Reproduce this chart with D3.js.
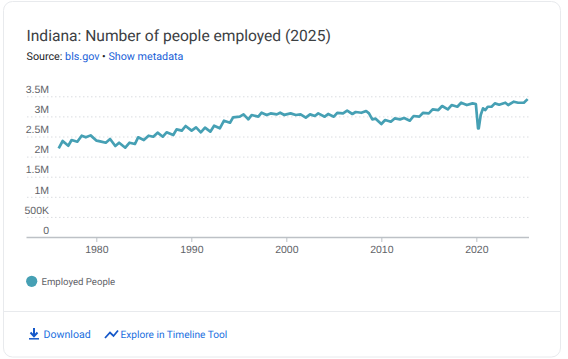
<!DOCTYPE html>
<html>
<head>
<meta charset="utf-8">
<script src="https://cdn.jsdelivr.net/npm/d3@7"></script>
<style>
  html, body { margin: 0; padding: 0; background: #fff; }
  svg { display: block; text-rendering: geometricPrecision; }
  .title { font: 15.6px Roboto, sans-serif; fill: #3c4043; }
  .source { font: 10.75px Roboto, sans-serif; fill: #202124; }
  .link { fill: #1a5fd8; }
  .legend { font: 9.6px Roboto, sans-serif; fill: #5f6368; }
  .foot { font: 10.6px Roboto, sans-serif; fill: #1a6fe0; }
  .foot.long { font-size: 10.15px; }
  .axis text { font: 10.5px "Liberation Sans", Arial, sans-serif; fill: #5f6368; }
</style>
</head>
<body>
<svg id="chart" width="568" height="359"></svg>
<script>
// values in millions of people
const years = [
  1976.04, 1976.46, 1977.05, 1977.4, 1978, 1978.46, 1978.9, 1979.4, 1980.03, 1980.4,
  1981, 1981.45, 1982, 1982.4, 1983.05, 1983.5, 1984.07, 1984.4, 1985, 1985.5,
  1986, 1986.45, 1987, 1987.4, 1988.1, 1988.45, 1989, 1989.4, 1990.03, 1990.5,
  1991, 1991.44, 1992, 1992.4, 1993, 1993.44, 1994.07, 1994.4, 1995.1, 1995.5,
  1996, 1996.35, 1997.05, 1997.4, 1997.93, 1998.35, 1999, 1999.35, 1999.8, 2000,
  2000.45, 2001, 2001.5, 2002.05, 2002.5, 2003, 2003.36, 2004.04, 2004.4, 2005,
  2005.36, 2005.97, 2006.4, 2006.95, 2007.3, 2007.9, 2008.4, 2008.7, 2009.05, 2009.4,
  2010, 2010.4, 2011, 2011.4, 2011.97, 2012.4, 2013, 2013.4, 2014, 2014.4,
  2015, 2015.4, 2016, 2016.4, 2017, 2017.4, 2018, 2018.4, 2019, 2019.6,
  2019.95, 2020.18, 2020.25, 2020.46, 2020.7, 2020.95, 2021.2, 2021.6, 2021.95, 2022.4,
  2023.05, 2023.35, 2023.95, 2024.4, 2025.0, 2025.4
];
const employed = [
  2.205, 2.388, 2.271, 2.412, 2.371, 2.52, 2.479, 2.528, 2.396, 2.38,
  2.346, 2.437, 2.263, 2.346, 2.222, 2.346, 2.313, 2.479, 2.412, 2.52,
  2.495, 2.595, 2.495, 2.603, 2.537, 2.678, 2.645, 2.761, 2.645, 2.727,
  2.603, 2.719, 2.62, 2.769, 2.703, 2.893, 2.843, 2.976, 2.993, 3.05,
  2.926, 3.034, 2.993, 3.092, 3.034, 3.075, 3.05, 3.092, 3.034, 3.05,
  3.076, 3.034, 3.05, 2.968, 3.05, 3.01, 3.076, 2.993, 3.06, 2.993,
  3.09, 3.076, 3.142, 3.06, 3.11, 3.09, 3.134, 3.076, 2.926, 2.943,
  2.81, 2.91, 2.868, 2.95, 2.926, 2.96, 2.893, 3.01, 2.993, 3.09,
  3.076, 3.175, 3.158, 3.258, 3.175, 3.283, 3.24, 3.34, 3.283, 3.324,
  3.308, 2.70, 2.70, 3.034, 3.2, 3.158, 3.24, 3.24, 3.324, 3.29,
  3.34, 3.283, 3.366, 3.34, 3.34, 3.43
];
const yTicks = [0, 0.5, 1, 1.5, 2, 2.5, 3, 3.5];
const yLabels = ["0", "500K", "1M", "1.5M", "2M", "2.5M", "3M", "3.5M"];
const xTicks = [1980, 1990, 2000, 2010, 2020];

const svg = d3.select("#chart");

// card
svg.append("rect")
  .attr("x", 3.5).attr("y", 1.5).attr("width", 557).attr("height", 355.5)
  .attr("rx", 9).attr("fill", "#fff").attr("stroke", "#e8eaed");
svg.append("line")
  .attr("x1", 4).attr("x2", 560).attr("y1", 311.5).attr("y2", 311.5)
  .attr("stroke", "#e8eaed");

// header
svg.append("text").attr("class", "title").attr("x", 26.5).attr("y", 41)
  .text("Indiana: Number of people employed (2025)");
const src = svg.append("text").attr("class", "source").attr("x", 26.5).attr("y", 60);
src.append("tspan").text("Source: ");
src.append("tspan").attr("class", "link").text("bls.gov");
src.append("tspan").text(" • ");
src.append("tspan").attr("class", "link").text("Show metadata");

// scales
const x = d3.scaleLinear().domain([1972.6, 2025.49]).range([26, 528.5]);
const y = d3.scaleLinear().domain([0, 3.5]).range([237, 96.3]);

// grid + y labels
const yAxis = svg.append("g").attr("class", "axis")
  .attr("transform", "translate(528.5,0)")
  .call(d3.axisLeft(y).tickValues(yTicks).tickSize(502.5)
    .tickFormat((d, i) => yLabels[i]));
yAxis.select(".domain").remove();
yAxis.selectAll(".tick line")
  .attr("stroke", "#dadce0").attr("stroke-dasharray", "1.5,2.5");
yAxis.selectAll(".tick text")
  .attr("x", -479.5).attr("dy", 0).attr("y", -3.8).attr("text-anchor", "end");

// x axis
const xAxis = svg.append("g").attr("class", "axis")
  .attr("transform", "translate(0,237)")
  .call(d3.axisBottom(x).tickValues(xTicks).tickSize(5).tickSizeOuter(0)
    .tickFormat(d3.format("d")));
xAxis.select(".domain").attr("stroke", "#bdc1c6").attr("stroke-width", 1.5);
xAxis.selectAll(".tick line").attr("stroke", "#bdc1c6");
xAxis.selectAll(".tick text").attr("y", 8.5).attr("dy", "0.71em");

// series
const line = d3.line().x(d => x(d[0])).y(d => y(d[1]));
svg.append("path")
  .datum(d3.zip(years, employed))
  .attr("d", line)
  .attr("fill", "none")
  .attr("stroke", "#46a0b4")
  .attr("stroke-width", 2.7)
  .attr("stroke-linejoin", "round");

// legend
svg.append("circle").attr("cx", 31.7).attr("cy", 281.3).attr("r", 5.6).attr("fill", "#46a0b4");
svg.append("text").attr("class", "legend").attr("x", 41.5).attr("y", 285).text("Employed People");

// footer links
const dl = svg.append("g").attr("transform", "translate(29,328)");
dl.append("path").attr("d", "M5 0V7M1.5 4.5L5 8.2L8.5 4.5").attr("fill", "none")
  .attr("stroke", "#1558c9").attr("stroke-width", 2);
dl.append("line").attr("x1", 0).attr("x2", 10).attr("y1", 10.8).attr("y2", 10.8)
  .attr("stroke", "#1558c9").attr("stroke-width", 1.5);
svg.append("text").attr("class", "foot").attr("x", 43.5).attr("y", 338).text("Download");

svg.append("path").attr("d", "M105 338L110 332.5L113.5 336L118 330.5").attr("fill", "none")
  .attr("stroke", "#1558c9").attr("stroke-width", 1.8);
svg.append("text").attr("class", "foot long").attr("x", 120.5).attr("y", 338).text("Explore in Timeline Tool");
</script>
</body>
</html>
